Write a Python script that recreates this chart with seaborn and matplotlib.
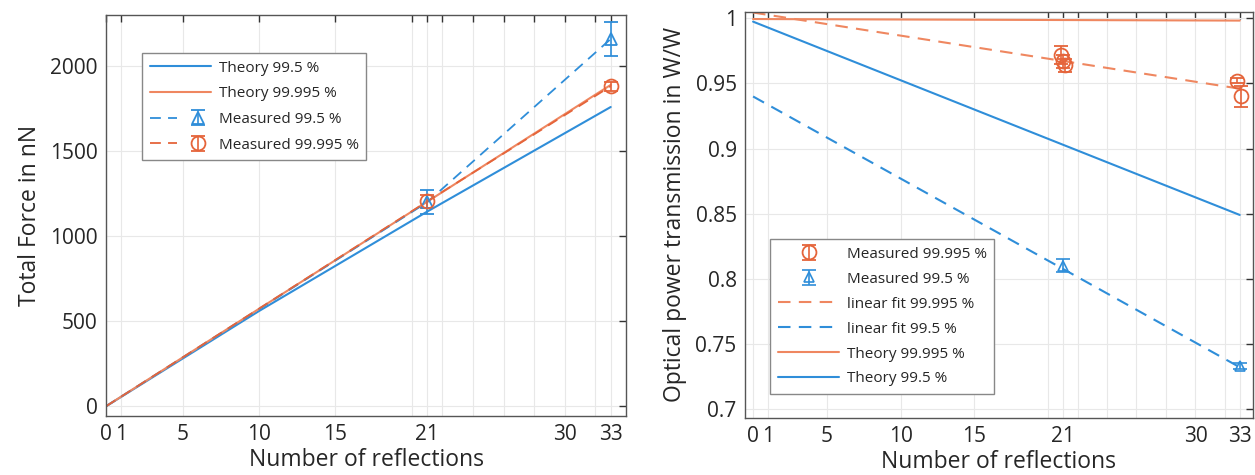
import matplotlib
matplotlib.use("Agg")
import matplotlib.pyplot as plt
import seaborn as sns
from matplotlib.legend_handler import HandlerTuple

# ---- data ----
BLUE = "#2f8ed9"
ORANGE = "#e5643a"
ORANGE_LIGHT = "#ef8760"

xticks = [0, 1, 5, 10, 15, 20, 21, 22, 24, 26, 28, 30, 32, 33]
xtick_labels = ["0", "1", "5", "10", "15", "", "21", "", "", "", "", "30", "", "33"]

# left panel: total force in nN
force_theory_x = [0, 10, 21, 33]
force_theory_995 = [0, 560, 1145, 1760]
force_theory_99995 = [0, 573, 1203, 1890]
force_meas_x = [0, 21, 33]
force_meas_995 = [0, 1200, 2160]
force_meas_995_err = [0, 70, 100]
force_meas_99995 = [0, 1205, 1882]
force_meas_99995_err = [0, 40, 25]

# right panel: optical power transmission in W/W
trans_theory_x = [0, 33]
trans_theory_995 = [0.9975, 0.849]
trans_theory_99995 = [0.9995, 0.9983]
trans_fit_995 = [0.940, 0.732]
trans_fit_99995 = [1.0045, 0.946]
trans_meas_99995_x = [20.85, 21.0, 21.15, 32.8, 33.1]
trans_meas_99995 = [0.972, 0.967, 0.964, 0.952, 0.940]
trans_meas_99995_err = [0.007, 0.005, 0.005, 0.002, 0.008]
trans_meas_995_x = [21, 33]
trans_meas_995 = [0.810, 0.733]
trans_meas_995_err = [0.005, 0.002]

sns.set_theme(style="whitegrid")
plt.rcParams["font.family"] = ["Open Sans", "DejaVu Sans"]

fig = plt.figure(figsize=(12.55, 4.75), dpi=100)
ax1 = fig.add_axes([0.0845, 0.125, 0.4143, 0.843])
ax2 = fig.add_axes([0.5936, 0.12, 0.4048, 0.855])


def style_axes(ax):
    ax.set_facecolor("white")
    ax.grid(True, color="#e8e8e8", linewidth=0.8)
    for s in ax.spines.values():
        s.set_visible(True)
        s.set_color("#555555")
        s.set_linewidth(1.0)
    ax.tick_params(direction="in", length=5, width=1.0, color="#333333",
                   top=True, right=True, labelsize=15, pad=6)
    ax.set_xticks(xticks)
    ax.set_xticklabels(xtick_labels)
    ax.set_xlabel("Number of reflections", fontsize=16.5, labelpad=2)


# ---- left panel ----
sns.lineplot(x=force_theory_x, y=force_theory_995, ax=ax1, color=BLUE, lw=1.5)
sns.lineplot(x=force_theory_x, y=force_theory_99995, ax=ax1, color=ORANGE_LIGHT, lw=1.5)
l3 = sns.lineplot(x=force_meas_x, y=force_meas_995, ax=ax1, color=BLUE, lw=1.3,
                  linestyle=(0, (6, 4))).lines[-1]
l4 = sns.lineplot(x=force_meas_x, y=force_meas_99995, ax=ax1, color=ORANGE, lw=1.3,
                  linestyle=(0, (6, 4))).lines[-1]
eb3 = ax1.errorbar(force_meas_x[1:], force_meas_995[1:], yerr=force_meas_995_err[1:],
                   fmt="^", ms=9, mfc="none", mec=BLUE, mew=1.3, color=BLUE,
                   ecolor=BLUE, elinewidth=1.2, capsize=5)
eb4 = ax1.errorbar(force_meas_x[1:], force_meas_99995[1:], yerr=force_meas_99995_err[1:],
                   fmt="o", ms=10, mfc="none", mec=ORANGE, mew=1.3, color=ORANGE,
                   ecolor=ORANGE, elinewidth=1.2, capsize=5)
style_axes(ax1)
ax1.set_xlim(0, 34)
ax1.set_ylim(-55, 2300)
ax1.set_yticks([0, 500, 1000, 1500, 2000])
ax1.set_ylabel("Total Force in nN", fontsize=16.5, labelpad=6)
h = ax1.get_lines()
ax1.legend([h[0], h[1], (l3, eb3), (l4, eb4)],
           ["Theory 99.5 %", "Theory 99.995 %", "Measured 99.5 %", "Measured 99.995 %"],
           handler_map={tuple: HandlerTuple(ndivide=None)},
           loc="upper left", bbox_to_anchor=(0.055, 0.925), fontsize=11,
           frameon=True, fancybox=False, framealpha=1, edgecolor="#888888",
           handlelength=4.0, labelspacing=0.7, borderpad=0.5, handletextpad=0.5)

# ---- right panel ----
e1 = ax2.errorbar(trans_meas_99995_x, trans_meas_99995, yerr=trans_meas_99995_err,
                  fmt="o", ms=10, mfc="none", mec=ORANGE, mew=1.3, color=ORANGE,
                  ecolor=ORANGE, elinewidth=1.2, capsize=5, zorder=4)
e2 = ax2.errorbar(trans_meas_995_x, trans_meas_995, yerr=trans_meas_995_err,
                  fmt="^", ms=7, mfc="none", mec=BLUE, mew=1.2, color=BLUE,
                  ecolor=BLUE, elinewidth=1.2, capsize=5, zorder=4)
sns.lineplot(x=trans_theory_x, y=trans_fit_99995, ax=ax2, color=ORANGE_LIGHT, lw=1.5,
             linestyle=(0, (6, 4)))
sns.lineplot(x=trans_theory_x, y=trans_fit_995, ax=ax2, color=BLUE, lw=1.5,
             linestyle=(0, (6, 4)))
sns.lineplot(x=trans_theory_x, y=trans_theory_99995, ax=ax2, color=ORANGE_LIGHT, lw=1.5)
sns.lineplot(x=trans_theory_x, y=trans_theory_995, ax=ax2, color=BLUE, lw=1.5)
style_axes(ax2)
ax2.set_xlim(-0.55, 33.9)
ax2.set_ylim(0.693, 1.005)
ax2.set_yticks([0.7, 0.75, 0.8, 0.85, 0.9, 0.95, 1.0])
ax2.set_yticklabels(["0.7", "0.75", "0.8", "0.85", "0.9", "0.95", "1"])
ax2.set_ylabel("Optical power transmission in W/W", fontsize=16.5, labelpad=6)
lines2 = ax2.get_lines()
ax2.legend([e1, e2] + list(lines2[-4:]),
           ["Measured 99.995 %", "Measured 99.5 %", "linear fit 99.995 %",
            "linear fit 99.5 %", "Theory 99.995 %", "Theory 99.5 %"],
           loc="lower left", bbox_to_anchor=(0.035, 0.04), fontsize=11,
           frameon=True, fancybox=False, framealpha=1, edgecolor="#888888",
           handlelength=4.0, labelspacing=0.65, borderpad=0.5, handletextpad=0.5)

fig.savefig("out.png", dpi=100)
